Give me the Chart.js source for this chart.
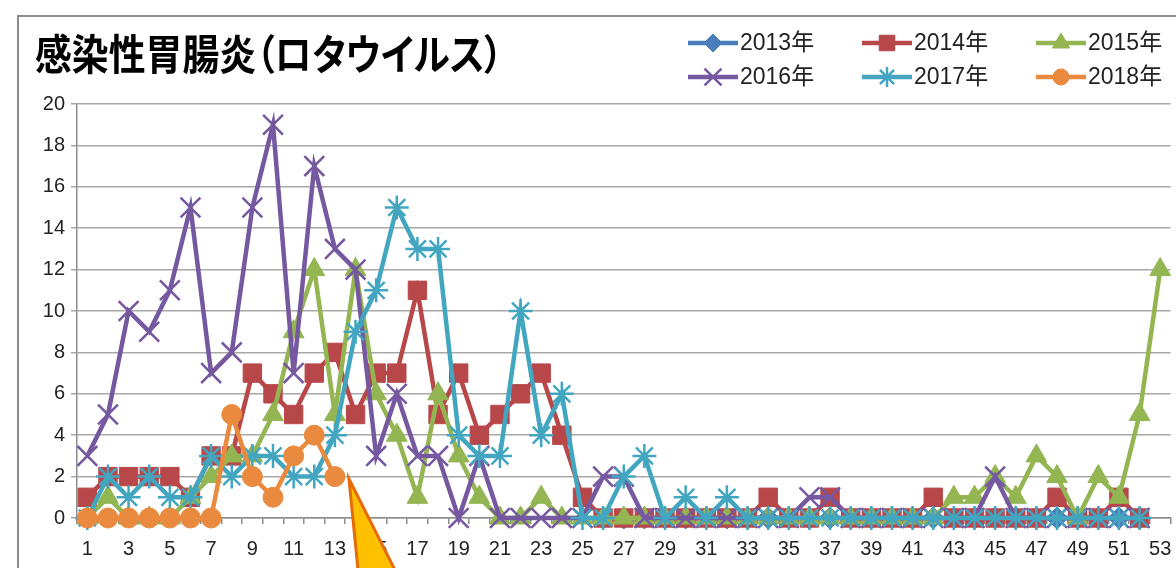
<!DOCTYPE html>
<html>
<head>
<meta charset="utf-8">
<script src="https://cdn.jsdelivr.net/npm/chart.js@4.4.0/dist/chart.umd.min.js"></script>
<style>
html, body { margin:0; padding:0; background:#fff; overflow:hidden; }
#wrap { position:relative; width:1176px; height:568px; overflow:hidden; }
#frame { position:absolute; left:17px; top:15px; width:1250px; height:650px; border:2px solid #8c8c8c; }
#chart { position:absolute; left:0; top:0; }
#title { position:absolute; left:35px; top:22px; font:bold 38px "Noto Sans CJK JP"; font-feature-settings:"palt"; color:#000; white-space:nowrap; transform:scale(0.97,1.1); transform-origin:left top; }
</style>
</head>
<body>
<div id="wrap">
  <div id="frame"></div>
  <!-- canvas is a bit wider than the window: the plot runs off the right edge like the original -->
  <canvas id="chart" width="1187" height="568"></canvas>
  <div id="title">感染性胃腸炎（ロタウイルス）</div>
</div>
<script>
const weeks = ['1','2','3','4','5','6','7','8','9','10','11','12','13','14','15','16','17','18','19','20',
  '21','22','23','24','25','26','27','28','29','30','31','32','33','34','35','36','37','38','39','40',
  '41','42','43','44','45','46','47','48','49','50','51','52','53']
const years = ['2013年','2014年','2015年','2016年','2017年','2018年']

// weekly counts (null = no data)
const cases2013 = [null,null,null,null,null,null,null,null,null,null,null,null,null,null,null,null,null,null,null,null,
  null,null,null,null,null,0,0,0,0,0, 0,0,0,0,0,0,0,0,0,0, 0,0,0,0,0,0,0,0,0,0, 0,0,null]
const cases2014 = [1,2,2,2,2,1,3,3,7,6, 5,7,8,5,7,7,11,5,7,4, 5,6,7,4,1,0,0,0,0,0,
  0,0,0,1,0,0,1,0,0,0, 0,1,0,0,0,0,0,1,0,0, 1,0,null]
const cases2015 = [0,1,0,0,0,1,2,3,3,5, 9,12,5,12,6,4,1,6,3,1, 0,0,1,0,0,0,0,0,0,0,
  0,0,0,0,0,0,0,0,0,0, 0,0,1,1,2,1,3,2,0,2, 1,5,12]
const cases2016 = [3,5,10,9,11,15,7,8,15,19, 7,17,13,12,3,6,3,3,0,3, 0,0,0,0,0,2,2,0,0,0,
  0,0,0,0,0,1,1,0,0,0, 0,0,0,0,2,0,0,0,0,0, 0,0,null]
const cases2017 = [0,2,1,2,1,1,3,2,3,3, 2,2,4,9,11,15,13,13,4,3, 3,10,4,6,0,0,2,3,0,1,
  0,1,0,0,0,0,0,0,0,0, 0,0,0,0,0,0,0,0,0,0, 0,0,null]
const cases2018 = [0,0,0,0,0,0,0,5,2,1,3,4,2]

function series(i, data, color, style, radius, bw) {
    return {
        label: years[i],
        data: data,
        borderColor: color,
        backgroundColor: color,
        borderWidth: 4.5,
        pointStyle: style,
        pointRadius: radius,
        pointBackgroundColor: color,
        pointBorderColor: color,
        pointBorderWidth: bw,
        tension: 0,
        spanGaps: false,
        clip: false,
        order: 6 - i
    }
}

const datasets = [
    series(0, cases2013, '#4A7EBB', 'rectRot', 11, 1),
    series(1, cases2014, '#B8474A', 'rect', 13, 1),
    series(2, cases2015, '#93B552', 'triangle', 12, 1),
    series(3, cases2016, '#7558A0', 'crossRot', 14, 2.5),
    series(4, cases2017, '#43A6C1', 'star', 12, 2.5),
    series(5, cases2018, '#EA8A3E', 'circle', 10, 1)
]

// legend in two rows of three, top right
const sideLegend = {
    id: 'sideLegend',
    afterDraw(chart) {
        const ctx = chart.ctx
        chart.data.datasets.forEach((ds, i) => {
            const col = i % 3, row = Math.floor(i / 3)
            const x0 = 688 + col * 174, y = 43 + row * 34
            ctx.save()
            ctx.strokeStyle = ds.borderColor
            ctx.lineWidth = ds.borderWidth
            ctx.beginPath()
            ctx.moveTo(x0, y)
            ctx.lineTo(x0 + 50, y)
            ctx.stroke()
            ctx.fillStyle = ds.pointBackgroundColor
            ctx.strokeStyle = ds.pointBorderColor
            ctx.lineWidth = ds.pointBorderWidth
            Chart.helpers.drawPoint(ctx, {
                pointStyle: ds.pointStyle, radius: ds.pointRadius - 2, rotation: 0, borderWidth: ds.pointBorderWidth
            }, x0 + 25, y)
            ctx.fillStyle = '#222'
            ctx.font = '23px "Liberation Sans", "Noto Sans CJK JP"'
            ctx.textBaseline = 'middle'
            ctx.fillText(ds.label, x0 + 52, y + 1)
            ctx.restore()
        })
    }
}

// yellow callout arrow under week 14
const callout = {
    id: 'callout',
    afterDraw(chart) {
        const ctx = chart.ctx
        ctx.save()
        ctx.beginPath()
        ctx.moveTo(349, 479)
        ctx.lineTo(400, 580)
        ctx.lineTo(359, 580)
        ctx.closePath()
        ctx.fillStyle = '#FFC000'
        ctx.fill()
        ctx.lineWidth = 3
        ctx.strokeStyle = '#E46C0A'
        ctx.stroke()
        ctx.restore()
    }
}

new Chart(document.getElementById('chart'), {
    type: 'line',
    data: { labels: weeks, datasets: datasets },
    options: {
        responsive: false,
        animation: false,
        layout: { padding: { top: 104, right: 0, left: 0, bottom: 0 } },
        plugins: { legend: { display: false }, title: { display: false }, tooltip: { enabled: false } },
        scales: {
            x: {
                offset: true,
                grid: { drawOnChartArea: false, drawTicks: true, tickLength: 6, offset: true, color: '#8c8c8c', lineWidth: 1.5 },
                border: { color: '#8c8c8c', width: 1.5 },
                ticks: {
                    autoSkip: false, maxRotation: 0, padding: 13, color: '#222',
                    font: { family: 'Liberation Sans', size: 20 },
                    callback: (v, i) => i % 2 === 0 ? weeks[i] : ''
                },
                afterFit: a => { a.height = 50 }
            },
            y: {
                min: 0, max: 20,
                grid: { color: '#a8a8a8', lineWidth: 1.5, tickLength: 6 },
                border: { color: '#8c8c8c', width: 1.5 },
                ticks: { stepSize: 2, padding: 6, color: '#222', font: { family: 'Liberation Sans', size: 20 } },
                afterFit: a => { a.width = 77 }
            }
        }
    },
    plugins: [sideLegend, callout]
})
</script>
</body>
</html>
